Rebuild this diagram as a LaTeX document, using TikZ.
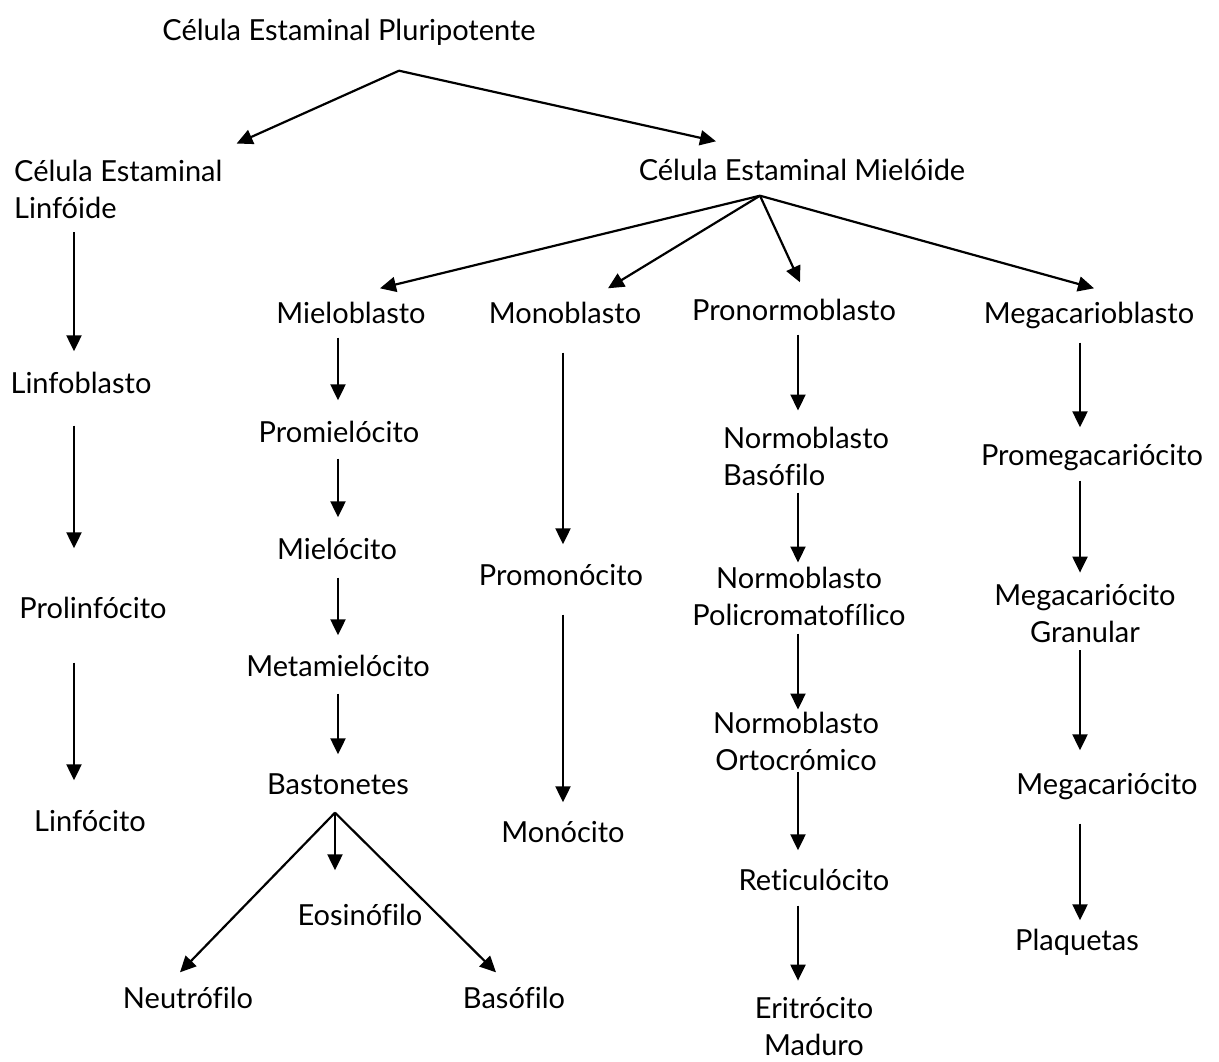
\documentclass[tikz,border=0pt]{standalone}
\usepackage{fontspec}
\setmainfont{Lato}[Ligatures=NoCommon]
\usetikzlibrary{arrows.meta}

\begin{document}
\begin{tikzpicture}[x=1pt,y=-1pt,
    cell/.style={inner sep=0pt, font=\fontsize{29}{37}\selectfont, text height=22pt, text depth=7pt},
    twoline/.style={inner sep=0pt, font=\fontsize{29}{37}\selectfont, align=center},
    arr/.style={line width=2.2pt, -{Triangle[length=16pt,width=15pt]}}]

    \useasboundingbox (0,0) rectangle (1219,1061);

    % columns of the vertical arrows
    \coordinate (colA) at (74,0);
    \coordinate (colB) at (338,0);
    \coordinate (colC) at (563,0);
    \coordinate (colD) at (798,0);
    \coordinate (colE) at (1080,0);

    \node[cell] (pluri) at (349,33) {Célula Estaminal Pluripotente};
    \node[twoline, align=left, anchor=west] (linf) at (14,189) {Célula Estaminal\\Linfóide};
    \node[cell] (mielo) at (802,173) {Célula Estaminal Mielóide};

    % linfoide
    \node[cell] (linfoblasto) at (81,386) {Linfoblasto};
    \node[cell] (prolinf) at (93,611) {Prolinfócito};
    \node[cell] (linfocito) at (90,824) {Linfócito};

    % mieloide
    \node[cell] (mieloblasto) at (351,316) {Mieloblasto};
    \node[cell] (monoblasto) at (565,316) {Monoblasto};
    \node[cell] (pronormo) at (794,313) {Pronormoblasto};
    \node[cell] (megablasto) at (1089,316) {Megacarioblasto};

    \node[cell] (promielo) at (339,435) {Promielócito};
    \node[cell] (mielocito) at (337,552) {Mielócito};
    \node[cell] (metamielo) at (338,669) {Metamielócito};
    \node[cell] (baston) at (338,787) {Bastonetes};
    \node[cell] (eosino) at (360,918) {Eosinófilo};
    \node[cell] (neutro) at (188,1001) {Neutrófilo};
    \node[cell] (basofilo) at (514,1001) {Basófilo};

    \node[cell] (promono) at (561,578) {Promonócito};
    \node[cell] (monocito) at (563,835) {Monócito};

    \node[twoline, align=left, anchor=west] (nbaso) at (723,456) {Normoblasto\\Basófilo};
    \node[twoline] (npoli) at (799,596) {Normoblasto\\Policromatofílico};
    \node[twoline] (norto) at (796,741) {Normoblasto\\Ortocrómico};
    \node[cell] (retic) at (814,883) {Reticulócito};
    \node[twoline] (eritro) at (814,1027) {Eritrócito\\Maduro};

    \node[cell] (promega) at (1092,458) {Promegacariócito};
    \node[twoline] (megagran) at (1085,614) {Megacariócito\\Granular};
    \node[cell] (megacario) at (1107,787) {Megacariócito};
    \node[cell] (plaq) at (1077,943) {Plaquetas};

    % forks
    \coordinate (forkP) at ([xshift=50pt,yshift=-23pt]pluri.south);
    \coordinate (forkM) at ([xshift=-42pt,yshift=-8pt]mielo.south);
    \coordinate (forkB) at ([xshift=-3pt,yshift=-11pt]baston.south);

    \draw[arr] (forkP) -- ([xshift=14pt,yshift=16pt]linf.north east);
    \draw[arr] (forkP) -- ([xshift=-86pt,yshift=17pt]mielo.north);

    \draw[arr] (forkM) -- ([xshift=29pt,yshift=13pt]mieloblasto.north);
    \draw[arr] (forkM) -- ([xshift=43pt,yshift=13pt]monoblasto.north);
    \draw[arr] (forkM) -- ([xshift=6pt,yshift=16pt]pronormo.north);
    \draw[arr] (forkM) -- ([xshift=5pt,yshift=13pt]megablasto.north);

    \draw[arr] (forkB) -- ([xshift=-8pt,yshift=14pt]neutro.north);
    \draw[arr] (forkB) -- ([xshift=-25pt,yshift=33pt]eosino.north);
    \draw[arr] (forkB) -- ([xshift=-18pt,yshift=14pt]basofilo.north);

    \draw[arr, shorten <=14pt, shorten >=20pt] (linf.south -| colA) -- (linfoblasto.north -| colA);
    \draw[arr, shorten <=25pt, shorten >=48pt] (linfoblasto.south -| colA) -- (prolinf.north -| colA);
    \draw[arr, shorten <=37pt, shorten >=29pt] (prolinf.south -| colA) -- (linfocito.north -| colA);

    \draw[arr, shorten <=7pt, shorten >=20pt] (mieloblasto.south -| colB) -- (promielo.north -| colB);
    \draw[arr, shorten <=9pt, shorten >=20pt] (promielo.south -| colB) -- (mielocito.north -| colB);
    \draw[arr, shorten <=11pt, shorten >=19pt] (mielocito.south -| colB) -- (metamielo.north -| colB);
    \draw[arr, shorten <=10pt, shorten >=18pt] (metamielo.south -| colB) -- (baston.north -| colB);

    \draw[arr, shorten <=22pt, shorten >=19pt] (monoblasto.south -| colC) -- (promono.north -| colC);
    \draw[arr, shorten <=22pt, shorten >=18pt] (promono.south -| colC) -- (monocito.north -| colC);

    \draw[arr, shorten <=7pt, shorten >=16pt] (pronormo.south -| colD) -- (nbaso.north -| colD);
    \draw[arr, shorten <=7pt, shorten >=4pt] (nbaso.south -| colD) -- (npoli.north -| colD);
    \draw[arr, shorten <=8pt, shorten >=2pt] (npoli.south -| colD) -- (norto.north -| colD);
    \draw[arr, shorten <=1pt, shorten >=18pt] (norto.south -| colD) -- (retic.north -| colD);
    \draw[arr, shorten <=8pt, shorten >=17pt] (retic.south -| colD) -- (eritro.north -| colD);

    \draw[arr, shorten <=12pt, shorten >=16pt] (megablasto.south -| colE) -- (promega.north -| colE);
    \draw[arr, shorten <=8pt, shorten >=12pt] (promega.south -| colE) -- (megagran.north -| colE);
    \draw[arr, shorten <=7pt, shorten >=22pt] (megagran.south -| colE) -- (megacario.north -| colE);
    \draw[arr, shorten <=22pt, shorten >=8pt] (megacario.south -| colE) -- (plaq.north -| colE);
\end{tikzpicture}
\end{document}
